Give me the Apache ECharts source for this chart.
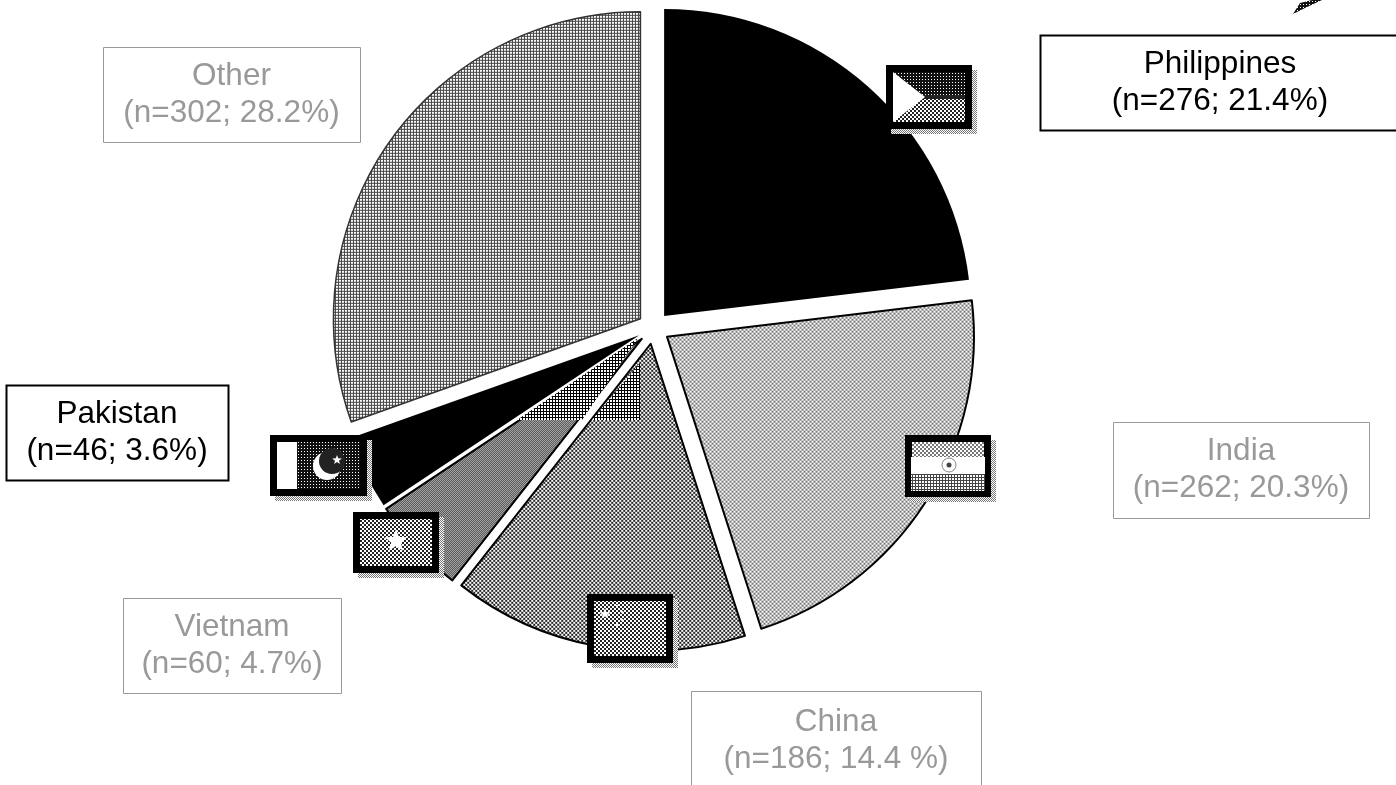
<!DOCTYPE html>
<html><head><meta charset="utf-8">
<style>html,body{margin:0;padding:0;background:#fff}#c{width:1396px;height:785px}</style>
<script src="https://cdn.jsdelivr.net/npm/echarts@6/dist/echarts.min.js"></script></head>
<body><div id="c"></div>
<script>
const countries = ['Philippines','India','China','Vietnam','Pakistan','Other'];
const counts = [276,262,186,60,46,302];
const percents = [21.4,20.3,14.4,4.7,3.6,28.2];
const percentTexts = ['21.4%','20.3%','14.4 %','4.7%','3.6%','28.2%'];

function pattern(w,h,fn,ink){
  const c=document.createElement('canvas');c.width=w;c.height=h;
  const x=c.getContext('2d');x.fillStyle='#fff';x.fillRect(0,0,w,h);x.fillStyle=ink||'#000';
  for(let j=0;j<h;j++)for(let i=0;i<w;i++)if(fn(i,j))x.fillRect(i,j,1,1);
  return c;
}
const img=c=>({image:c,repeat:'repeat'});
const checker=img(pattern(4,4,(i,j)=>((i>>1)+(j>>1))%2===0,'#222'));
const fineChecker=img(pattern(2,2,(i,j)=>(i+j)%2===0,'#000'));
const lightMid=img(pattern(4,4,(i,j)=>((i>>1)+(j>>1))%2===0,'#777'));
const grid=img(pattern(3,3,(i,j)=>i===0||j===0,'#444'));
const inkGrid=img(pattern(3,3,(i,j)=>i===0||j===0,'#000'));
const darkGrid=img(pattern(3,3,(i,j)=>!(i===1&&j===1),'#111'));
const sparse=img(pattern(2,2,(i,j)=>(i+j)%2===0,'#777'));

const fills=['#000',lightMid,checker,fineChecker,'#000',grid];
const strokes=['#000','#000','#000','#000','#000','#333'];
const strokeW=[0,2,2,2,0,1.5];

const boxes=[
 {x:1040,y:35,w:360,h:95,dark:true},
 {x:1113,y:422,w:256,h:96,dark:false},
 {x:691,y:691,w:290,h:100,dark:false},
 {x:123,y:598,w:218,h:95,dark:false},
 {x:6,y:385,w:222,h:95,dark:true},
 {x:103,y:47,w:257,h:95,dark:false}
];

const pieData=countries.map((n,i)=>({
  name:n,value:percents[i],selected:true,
  itemStyle:{color:fills[i],borderColor:strokes[i],borderWidth:strokeW[i]},
  select:{itemStyle:{color:fills[i],borderColor:strokes[i],borderWidth:strokeW[i]}}
}));

const labelBoxes=countries.flatMap((n,i)=>{
  const b=boxes[i];
  return [
    {type:'rect',z:90,shape:{x:b.x+.5,y:b.y+.5,width:b.w,height:b.h},style:{fill:'#fff',stroke:b.dark?'#000':'#999',lineWidth:b.dark?2:1}},
    {type:'text',z:91,x:b.x+b.w/2,y:b.y+b.h/2,style:{
      text:n+'\n(n='+counts[i]+'; '+percentTexts[i]+')',
      fill:b.dark?'#000':'#999',
      font:'31.5px "Liberation Sans",Arial,sans-serif',
      lineHeight:37,align:'center',verticalAlign:'middle'}}
  ];
});

function star(cx,cy,r){
  const p=[];for(let k=0;k<10;k++){const a=-Math.PI/2+k*Math.PI/5,q=k%2?r*0.42:r;p.push([cx+q*Math.cos(a),cy+q*Math.sin(a)]);}
  return {type:'polygon',z:103,shape:{points:p},style:{fill:'#fff'}};
}
function flag(x,y,w,h,inner,extra){
  const b=7;
  return [
    {type:'rect',z:100,shape:{x:x+5,y:y+5,width:w,height:h},style:{fill:sparse}},
    {type:'rect',z:101,shape:{x,y,width:w,height:h},style:{fill:'#000'}},
    {type:'rect',z:102,shape:{x:x+b,y:y+b,width:w-2*b,height:h-2*b},style:{fill:inner}},
    ...extra.map(e=>Object.assign({z:103},e))
  ];
}
const flags=[
  ...flag(886,65,86,64,checker,[
    {type:'rect',shape:{x:893,y:72,width:72,height:25},style:{fill:darkGrid}},
    {type:'rect',shape:{x:893,y:95,width:72,height:4},style:{fill:'#222'}},
    {type:'polygon',z:104,shape:{points:[[893,72],[893,122],[925,97]]},style:{fill:'#fff'}}
  ]),
  ...flag(905,435,86,62,lightMid,[
    {type:'rect',shape:{x:911,y:457,width:74,height:17},style:{fill:'#fff'}},
    {type:'rect',shape:{x:911,y:474,width:74,height:17},style:{fill:grid}},
    {type:'circle',z:104,shape:{cx:949,cy:465,r:7},style:{fill:'#fff',stroke:'#888',lineWidth:1}},
    {type:'circle',z:105,shape:{cx:949,cy:465,r:2.5},style:{fill:'#444'}}
  ]),
  ...flag(587,594,86,69,checker,[
    star(605,614,6),star(617,606,2),star(622,612,2),star(622,620,2),star(617,625,2)
  ]),
  ...flag(353,512,86,61,checker,[star(396,541,12)]),
  ...flag(270,435,97,61,darkGrid,[
    {type:'rect',shape:{x:277,y:442,width:20,height:47},style:{fill:'#fff'}},
    {type:'circle',z:104,shape:{cx:327,cy:466,r:14},style:{fill:'#fff'}},
    {type:'circle',z:105,shape:{cx:332,cy:461,r:13},style:{fill:'#222'}},
    Object.assign(star(337,460,5),{z:106})
  ])
];

const chart=echarts.init(document.getElementById('c'),null,{renderer:'canvas'});
chart.setOption({
  animation:false,
  backgroundColor:'#fff',
  graphic:{elements:[
    {type:'polygon',z:50,shape:{points:[[517,420],[582,420],[638,338]]},style:{fill:inkGrid}},
    {type:'polygon',z:50,shape:{points:[[592,420],[640,420],[640,363]]},style:{fill:inkGrid}},
    ...labelBoxes,
    ...flags,
    {type:'polygon',z:100,shape:{points:[[1293,14],[1300,3],[1312,0],[1322,0],[1305,8]]},style:{fill:darkGrid}}
  ]},
  series:[{
    type:'pie',
    center:[653.5,328],
    radius:[0,307],
    startAngle:90,
    clockwise:true,
    sort:null,
    selectedMode:'multiple',
    selectedOffset:16,
    silent:true,
    data:pieData,
    labelLine:{show:false},
    label:{show:false}
  }]
});
</script></body></html>
